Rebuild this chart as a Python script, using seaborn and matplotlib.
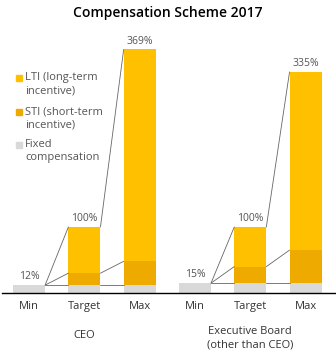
import matplotlib
matplotlib.use("Agg")
import matplotlib.pyplot as plt
from matplotlib.patches import Rectangle
from matplotlib.transforms import blended_transform_factory
import pandas as pd
import seaborn as sns

# Compensation components in % of target total compensation
groups = ["CEO", "Executive Board\n(other than CEO)"]
levels = ["Min", "Target", "Max"]
fixed = [12, 12, 12, 15, 15, 15]
sti = [0, 18, 36, 0, 25, 50]
lti = [0, 70, 321, 0, 60, 270]
totals = [12, 100, 369, 15, 100, 335]
legend_labels = ["LTI (long-term\nincentive)", "STI (short-term\nincentive)",
                 "Fixed\ncompensation"]

C_LTI = "#FFC000"
C_STI = "#EFAA00"
C_FIX = "#D9D9D9"
TXT = "#555555"

sns.set_theme(style="white")
plt.rcParams["font.family"] = ["Open Sans", "DejaVu Sans"]

keys = [f"{g}|{l}" for g in groups for l in levels]
df = pd.DataFrame({
    "key": keys,
    "fixed": fixed,
    "fixed_sti": [f + s for f, s in zip(fixed, sti)],
    "total": [f + s + l for f, s, l in zip(fixed, sti, lti)],
})

fig = plt.figure(figsize=(3.36, 3.52), dpi=100)
ax = fig.add_axes([0.006, 0.1676, 0.994, 0.75])

W = 0.58
for col, color in [("total", C_LTI), ("fixed_sti", C_STI), ("fixed", C_FIX)]:
    sns.barplot(data=df, x="key", y=col, order=keys, color=color,
                width=W, saturation=1, ax=ax, errorbar=None,
                linewidth=0, edgecolor="none")

ax.set_xlim(-0.49, 5.55)
ax.set_ylim(0, 400)

# connector lines between consecutive bars of each group
for g in range(2):
    for i in range(2):
        a = g * 3 + i
        b = a + 1
        x0, x1 = a + W / 2, b - W / 2
        if i == 0:
            src = [df["fixed"][a]] * 3
        else:
            src = [df["fixed"][a], df["fixed_sti"][a], df["total"][a]]
        dst = [df["fixed"][b], df["fixed_sti"][b], df["total"][b]]
        for y0, y1 in zip(src, dst):
            ax.plot([x0, x1], [y0, y1], color="#666666", lw=0.6, zorder=5)

# value labels on Min/Target/Max
for i, t in enumerate(totals):
    ax.text(i, t + 4, f"{t}%", ha="center", va="bottom", fontsize=7.5,
            color=TXT)

ax.set_xticks(range(6))
ax.set_xticklabels(levels * 2, fontsize=8, color="#333333")
ax.tick_params(axis="x", length=0, pad=6)
ax.set_yticks([])
ax.set_xlabel("")
ax.set_ylabel("")
for s in ["top", "right", "left"]:
    ax.spines[s].set_visible(False)
ax.spines["bottom"].set_color("black")
ax.spines["bottom"].set_linewidth(1.0)

trans = blended_transform_factory(ax.transData, fig.transFigure)
ax.text(1, 1 - 336 / 352, groups[0], transform=trans, ha="center",
        va="center", fontsize=8, color="#333333")
ax.text(4, 1 - 338 / 352, groups[1], transform=trans, ha="center",
        va="center", fontsize=8, color="#333333", linespacing=1.3)

# legend: square aligned with the first text line of each entry
H, Wpx = 352, 336
for lab, color, ypx in zip(legend_labels, [C_LTI, C_STI, C_FIX],
                           [78, 112, 145]):
    fig.patches.append(Rectangle((16 / Wpx, 1 - (ypx + 3) / H), 6 / Wpx,
                                 6 / H, transform=fig.transFigure,
                                 color=color))
    fig.text(25 / Wpx, 1 - (ypx - 6) / H, lab, ha="left", va="top",
             fontsize=8, color=TXT, linespacing=1.3)

fig.text(0.5, 1 - 13 / H, "Compensation Scheme 2017", ha="center",
         va="center", fontsize=10, fontweight="semibold", color="black")

fig.savefig("out.png", dpi=100)
